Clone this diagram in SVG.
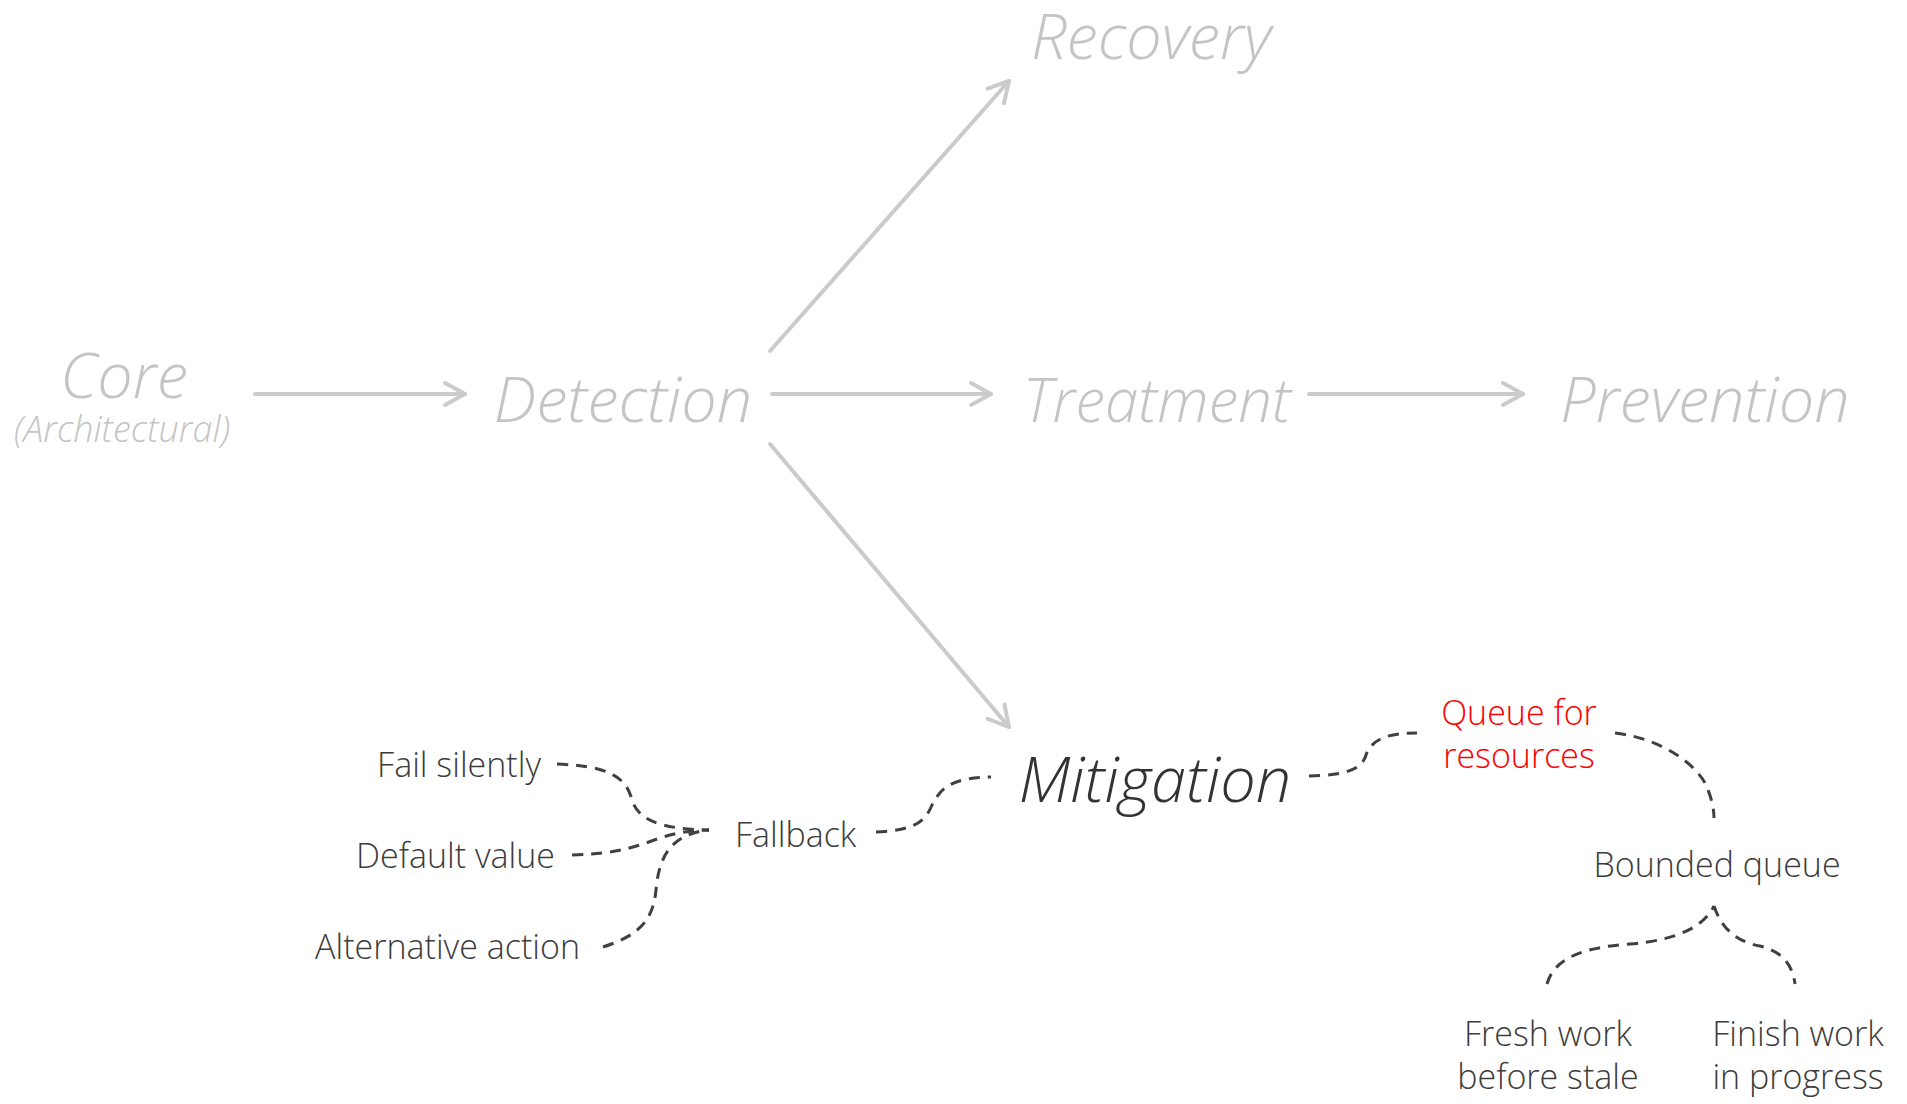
<svg xmlns="http://www.w3.org/2000/svg" width="1907" height="1104" viewBox="0 0 1907 1104">
  <style>
    .big { font-family: "Open Sans", "Liberation Sans", sans-serif; font-weight: 300; font-style: italic; font-size: 63px; }
    .sm { font-family: "Open Sans", "Liberation Sans", sans-serif; font-weight: 300; font-size: 34px; fill: #3c3c3c; }
    .faded { fill: #c4c4c4; }
    .dark { fill: #333333; }
    .red { fill: #ff0000; }
    .flow { fill: none; stroke: #cbcbcb; stroke-width: 4; stroke-linecap: round; marker-end: url(#chev); }
    .dash { fill: none; stroke: #404040; stroke-width: 3; stroke-dasharray: 11 8; }
  </style>
  <defs>
    <marker id="chev" markerUnits="userSpaceOnUse" viewBox="-24 -14 28 28" markerWidth="28" markerHeight="28" refX="0" refY="0" orient="auto">
      <path d="M-20,-11 L0,0 L-20,11" fill="none" stroke="#cbcbcb" stroke-width="4" stroke-linecap="round" stroke-linejoin="round"/>
    </marker>
  </defs>
  <rect width="1907" height="1104" fill="#ffffff"/>

  <g id="connectors">
    <path class="flow" d="M255,394 L465,394"/>
    <path class="flow" d="M772,394 L991,394"/>
    <path class="flow" d="M1309,394 L1523,394"/>
    <path class="flow" d="M770,351 L1009,81"/>
    <path class="flow" d="M770,444 L1009,727"/>

    <path class="dash" d="M557,764 C605,766 626,775 632,800 C638,820 660,829 709,830"/>
    <path class="dash" d="M572,855 C620,854 640,845 660,838 C678,832 695,830 709,830"/>
    <path class="dash" d="M603,947 C640,935 653,920 656,890 C659,855 672,834 709,830"/>
    <path class="dash" d="M876,832 C915,830 925,822 932,805 C942,785 955,778 991,777"/>
    <path class="dash" d="M1309,776 C1345,775 1362,770 1366,755 C1372,738 1390,733 1417,733"/>
    <path class="dash" d="M1615,733 C1660,738 1700,765 1708,790 C1712,800 1714,810 1714,818"/>
    <path class="dash" d="M1547,984 C1555,955 1590,947 1630,944 C1680,940 1705,925 1714,906"/>
    <path class="dash" d="M1714,906 C1722,930 1738,942 1760,946 C1785,952 1793,968 1795,984"/>
  </g>

  <g id="core">
    <text class="big faded" x="124" y="398" text-anchor="middle">Core</text>
    <text class="sm faded" x="122" y="442" text-anchor="middle" style="font-style: italic; font-size: 36px">(Architectural)</text>
  </g>
  <g id="detection"><text class="big faded" x="623" y="422" text-anchor="middle">Detection</text></g>
  <g id="recovery"><text class="big faded" x="1151" y="59" text-anchor="middle">Recovery</text></g>
  <g id="treatment"><text class="big faded" x="1157" y="422" text-anchor="middle" style="font-size: 60px">Treatment</text></g>
  <g id="prevention"><text class="big faded" x="1705" y="422" text-anchor="middle">Prevention</text></g>
  <g id="mitigation"><text class="big dark" x="1155" y="802" text-anchor="middle">Mitigation</text></g>

  <g id="fallback"><text class="sm" x="735" y="847">Fallback</text></g>
  <g id="fail-silently"><text class="sm" x="541" y="777" text-anchor="end">Fail silently</text></g>
  <g id="default-value"><text class="sm" x="555" y="868" text-anchor="end">Default value</text></g>
  <g id="alternative-action"><text class="sm" x="580" y="959" text-anchor="end">Alternative action</text></g>

  <g id="queue-for-resources">
    <text class="sm red" x="1519" y="725" text-anchor="middle">Queue for</text>
    <text class="sm red" x="1519" y="768" text-anchor="middle">resources</text>
  </g>
  <g id="bounded-queue"><text class="sm" x="1717" y="877" text-anchor="middle">Bounded queue</text></g>
  <g id="fresh-work">
    <text class="sm" x="1548" y="1046" text-anchor="middle">Fresh work</text>
    <text class="sm" x="1548" y="1089" text-anchor="middle">before stale</text>
  </g>
  <g id="finish-work">
    <text class="sm" x="1798" y="1046" text-anchor="middle">Finish work</text>
    <text class="sm" x="1798" y="1089" text-anchor="middle">in progress</text>
  </g>
</svg>
